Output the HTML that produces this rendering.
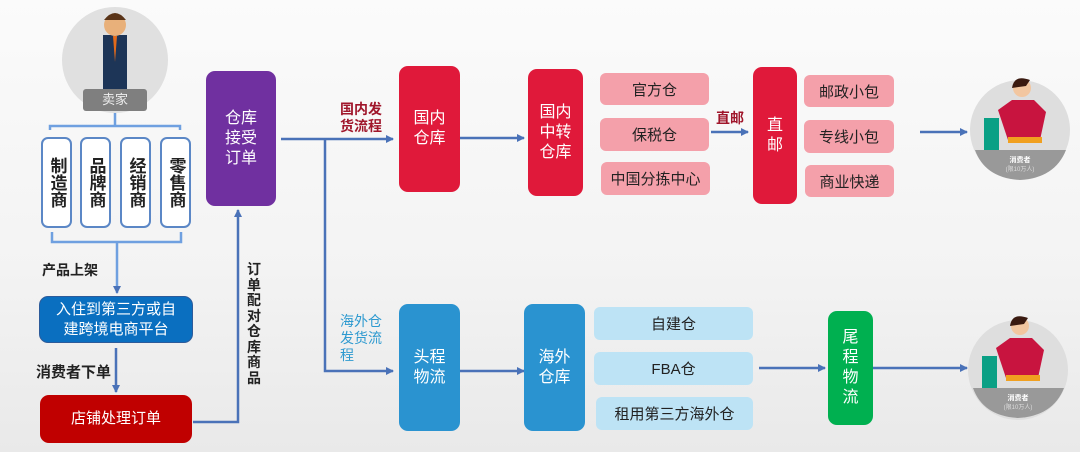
<!DOCTYPE html>
<html><head><meta charset="utf-8"><style>
*{margin:0;padding:0;box-sizing:border-box}
body{width:1080px;height:452px;overflow:hidden;position:relative;background:linear-gradient(#fbfbfb,#f3f3f3 60%,#e9e9e9);font-family:"Liberation Sans","Noto Sans CJK SC",sans-serif}
.b{position:absolute;display:flex;align-items:center;justify-content:center;text-align:center;color:#fff;border-radius:9px;font-size:16px;line-height:20px}
.p{position:absolute;display:flex;align-items:center;justify-content:center;color:#222;font-size:15px;border-radius:6px}
.v{position:absolute;border:2px solid #5b87c6;border-radius:7px;background:#fff;display:flex;align-items:center;justify-content:center;font-size:17px;line-height:20px;color:#222;writing-mode:vertical-rl;font-weight:bold}
.t{position:absolute;font-weight:bold;font-size:14px;line-height:17px}
svg{position:absolute;left:0;top:0}
</style></head><body>
<svg width="1080" height="452">
<defs><marker id="a" markerWidth="8" markerHeight="8" refX="7" refY="4" orient="auto" markerUnits="userSpaceOnUse"><path d="M0,0L8,4L0,8z" fill="#4a72b8"/></marker></defs>
<g stroke="#4a72b8" stroke-width="2.5" fill="none">
<circle cx="115" cy="60" r="53" fill="#e0e0e0" stroke="none"/>
<circle cx="1020" cy="130" r="50" fill="#dedede" stroke="none"/>
<circle cx="1018" cy="370" r="50" fill="#dedede" stroke="none"/>
<path d="M115 113V126M50 130V126H180V130" stroke="#6fa0e0"/>
<path d="M52 232V242H181V232M117 242V293" stroke="#6fa0e0" marker-end="url(#a)"/>
<path d="M116 348V392" marker-end="url(#a)"/>
<path d="M193 422H238V210" marker-end="url(#a)"/>
<path d="M281 139H393" marker-end="url(#a)"/>
<path d="M325 139V371H393" marker-end="url(#a)"/>
<path d="M460 138H524" marker-end="url(#a)"/>
<path d="M711 132H748" marker-end="url(#a)"/>
<path d="M920 132H967" marker-end="url(#a)"/>
<path d="M460 371H524" marker-end="url(#a)"/>
<path d="M759 368H825" marker-end="url(#a)"/>
<path d="M873 368H967" marker-end="url(#a)"/>
</g>
<!-- seller figure -->
<rect x="103" y="35" width="24" height="55" fill="#1d3557"/>
<circle cx="115" cy="25" r="11" fill="#e8b07a"/>
<path d="M104 20Q115 6 126 20Z" fill="#5a3418"/>
<path d="M113 36L115 62L117 36Z" fill="#e36a1a"/>
<!-- consumers -->
<g>
<path d="M998 110L1012 100L1034 100L1046 112L1040 140L1008 140Z" fill="#c8143f"/>
<circle cx="1022" cy="88" r="9" fill="#f2c6a0"/><path d="M1012 88Q1014 74 1030 80L1026 86Z" fill="#3a1a10"/>
<rect x="1008" y="137" width="34" height="6" fill="#f0a020"/>
<rect x="984" y="118" width="15" height="40" fill="#0aa085"/>
<path d="M975 150H1066Q1055 178 1020 180Q985 178 975 150Z" fill="#999"/>
<text x="1020" y="162" font-size="7" fill="#fff" text-anchor="middle" font-weight="bold">消费者</text>
<text x="1020" y="171" font-size="6" fill="#ddd" text-anchor="middle">(限10万人)</text>
</g>
<g transform="translate(-2,238)">
<path d="M998 110L1012 100L1034 100L1046 112L1040 140L1008 140Z" fill="#c8143f"/>
<circle cx="1022" cy="88" r="9" fill="#f2c6a0"/><path d="M1012 88Q1014 74 1030 80L1026 86Z" fill="#3a1a10"/>
<rect x="1008" y="137" width="34" height="6" fill="#f0a020"/>
<rect x="984" y="118" width="15" height="40" fill="#0aa085"/>
<path d="M975 150H1066Q1055 178 1020 180Q985 178 975 150Z" fill="#999"/>
<text x="1020" y="162" font-size="7" fill="#fff" text-anchor="middle" font-weight="bold">消费者</text>
<text x="1020" y="171" font-size="6" fill="#ddd" text-anchor="middle">(限10万人)</text>
</g>
</svg>
<div class="b" style="left:83px;top:89px;width:64px;height:22px;background:#7f7f7f;border-radius:3px;font-size:13px;color:#eee">卖家</div>
<div class="v" style="left:41px;top:137px;width:31px;height:91px">制造商</div>
<div class="v" style="left:80px;top:137px;width:31px;height:91px">品牌商</div>
<div class="v" style="left:120px;top:137px;width:31px;height:91px">经销商</div>
<div class="v" style="left:160px;top:137px;width:31px;height:91px">零售商</div>
<div class="t" style="left:42px;top:262px;color:#222">产品上架</div>
<div class="b" style="left:39px;top:296px;width:154px;height:47px;background:#0a6fc0;font-size:15px;border:1px solid #2d5b9a">入住到第三方或自<br>建跨境电商平台</div>
<div class="t" style="left:36px;top:364px;color:#222;font-size:15px">消费者下单</div>
<div class="b" style="left:40px;top:395px;width:152px;height:48px;background:#c00000;font-size:15px">店铺处理订单</div>
<div class="t" style="left:247px;top:262px;width:16px;color:#222;font-size:14px;line-height:15.5px">订单配对仓库商品</div>
<div class="b" style="left:206px;top:71px;width:70px;height:135px;background:#7030a0">仓库<br>接受<br>订单</div>
<div class="t" style="left:340px;top:101px;color:#a0162b">国内发<br>货流程</div>
<div class="t" style="left:340px;top:313px;color:#2e9ad0;font-weight:normal">海外仓<br>发货流<br>程</div>
<div class="b" style="left:399px;top:66px;width:61px;height:126px;background:#e0193a">国内<br>仓库</div>
<div class="b" style="left:528px;top:69px;width:55px;height:127px;background:#e0193a">国内<br>中转<br>仓库</div>
<div class="p" style="left:600px;top:73px;width:109px;height:32px;background:#f4a0aa">官方仓</div>
<div class="p" style="left:600px;top:118px;width:109px;height:33px;background:#f4a0aa">保税仓</div>
<div class="p" style="left:601px;top:162px;width:109px;height:33px;background:#f4a0aa">中国分拣中心</div>
<div class="t" style="left:716px;top:110px;color:#a0162b">直邮</div>
<div class="b" style="left:753px;top:67px;width:44px;height:137px;background:#e0193a">直<br>邮</div>
<div class="p" style="left:804px;top:75px;width:90px;height:32px;background:#f4a0aa">邮政小包</div>
<div class="p" style="left:804px;top:120px;width:90px;height:33px;background:#f4a0aa">专线小包</div>
<div class="p" style="left:805px;top:165px;width:89px;height:32px;background:#f4a0aa">商业快递</div>
<div class="b" style="left:399px;top:304px;width:61px;height:127px;background:#2a93d0">头程<br>物流</div>
<div class="b" style="left:524px;top:304px;width:61px;height:127px;background:#2a93d0">海外<br>仓库</div>
<div class="p" style="left:594px;top:307px;width:159px;height:33px;background:#bde3f5">自建仓</div>
<div class="p" style="left:594px;top:352px;width:159px;height:33px;background:#bde3f5">FBA仓</div>
<div class="p" style="left:596px;top:397px;width:157px;height:33px;background:#bde3f5">租用第三方海外仓</div>
<div class="b" style="left:828px;top:311px;width:45px;height:114px;background:#00b050">尾<br>程<br>物<br>流</div>
</body></html>
